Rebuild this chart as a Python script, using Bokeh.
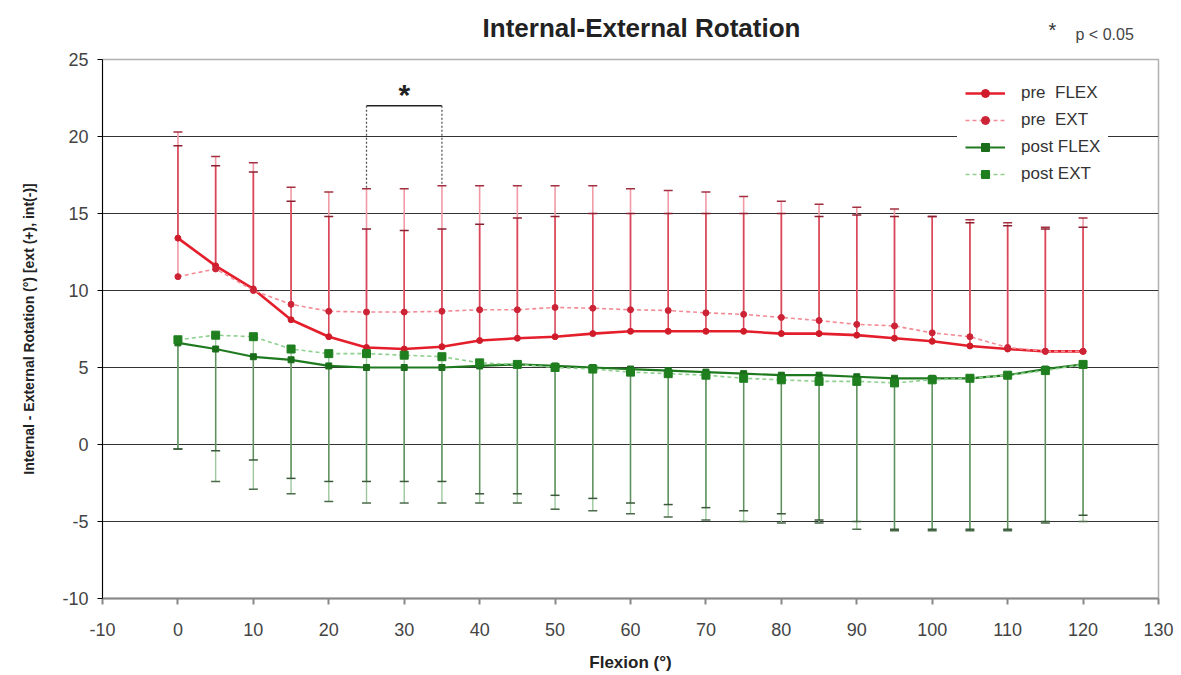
from bokeh.plotting import figure
from bokeh.layouts import column
from bokeh.models import Range1d, Whisker, TeeHead, ColumnDataSource, Label, FixedTicker
from bokeh.core.properties import value
from bokeh.embed import file_html
from bokeh.resources import INLINE

# ---------------- data ----------------
flexion = [0, 5, 10, 15, 20, 25, 30, 35, 40, 45, 50, 55, 60, 65, 70, 75, 80, 85, 90, 95, 100, 105, 110, 115, 120]

pre_flex = [13.4, 11.6, 10.1, 8.1, 7.0, 6.3, 6.2, 6.35, 6.75, 6.9, 7.0, 7.2, 7.35, 7.35, 7.35, 7.35, 7.2, 7.2, 7.1, 6.9, 6.7, 6.4, 6.2, 6.05, 6.05]
pre_ext = [10.9, 11.4, 10.0, 9.1, 8.65, 8.6, 8.6, 8.65, 8.75, 8.75, 8.9, 8.85, 8.75, 8.7, 8.55, 8.45, 8.25, 8.05, 7.8, 7.7, 7.25, 7.0, 6.3, 6.05, 6.05]
post_flex = [6.6, 6.2, 5.7, 5.5, 5.1, 5.0, 5.0, 5.0, 5.1, 5.2, 5.1, 5.0, 4.9, 4.8, 4.7, 4.6, 4.5, 4.5, 4.4, 4.3, 4.3, 4.3, 4.5, 4.9, 5.2]
post_ext = [6.8, 7.1, 7.0, 6.2, 5.9, 5.9, 5.8, 5.7, 5.3, 5.2, 5.0, 4.9, 4.7, 4.6, 4.5, 4.3, 4.2, 4.1, 4.1, 4.0, 4.2, 4.3, 4.5, 4.8, 5.2]

pre_flex_upper = [19.4, 18.1, 17.7, 15.8, 14.8, 14.0, 13.9, 14.0, 14.3, 14.7, 14.8, 15.0, 15.0, 15.0, 15.0, 15.0, 15.0, 14.8, 14.9, 14.8, 14.8, 14.4, 14.2, 14.0, 14.1]
pre_ext_upper = [20.3, 18.7, 18.3, 16.7, 16.4, 16.6, 16.6, 16.8, 16.8, 16.8, 16.8, 16.8, 16.6, 16.5, 16.4, 16.1, 15.8, 15.6, 15.4, 15.3, 14.8, 14.6, 14.4, 14.1, 14.7]
post_flex_lower = [-0.3, -0.4, -1.0, -2.2, -2.4, -2.4, -2.4, -2.4, -3.2, -3.2, -3.3, -3.5, -3.8, -3.9, -4.1, -4.3, -4.5, -4.9, -5.0, -5.5, -5.5, -5.5, -5.5, -5.0, -4.6]
post_ext_lower = [-0.3, -2.4, -2.9, -3.2, -3.7, -3.8, -3.8, -3.8, -3.8, -3.8, -4.2, -4.3, -4.5, -4.7, -4.9, -5.0, -5.1, -5.1, -5.5, -5.6, -5.6, -5.6, -5.6, -5.1, -5.0]

series_labels = ["pre  FLEX", "pre  EXT", "post FLEX", "post EXT"]
x_ticks = [-10, 0, 10, 20, 30, 40, 50, 60, 70, 80, 90, 100, 110, 120, 130]
x_tick_labels = ["-10", "0", "10", "20", "30", "40", "50", "60", "70", "80", "90", "100", "110", "120", "130"]
y_ticks = [-10, -5, 0, 5, 10, 15, 20, 25]
y_tick_labels = ["-10", "-5", "0", "5", "10", "15", "20", "25"]

title_text = "Internal-External Rotation"
note_star = "*"
note_text = "p < 0.05"

# significance bracket between 25 and 35 deg
sig_x = [25, 35]
sig_top = 22.0

FONT = "Liberation Sans"
W = 1181
HEADER_H = 47
MAIN_H = 675 - HEADER_H
FRAME_L, FRAME_R = 102, 1158

# ---------------- header (title + note), pixel coordinates ----------------
hdr = figure(width=W, height=HEADER_H, output_backend="svg", toolbar_location=None,
             x_range=Range1d(FRAME_L, FRAME_R), y_range=Range1d(HEADER_H, 0),
             x_axis_type=None, y_axis_type=None,
             min_border_left=FRAME_L, min_border_right=W - FRAME_R, min_border_top=0, min_border_bottom=0,
             background_fill_color="white", border_fill_color="white")
hdr.outline_line_color = None
hdr.xgrid.visible = False
hdr.ygrid.visible = False
hdr.text(x=[641], y=[27], text=[title_text], text_font=value(FONT), text_font_size="26px",
         text_font_style="bold", text_align="center", text_baseline="middle", text_color="#222222")
hdr.text(x=[1052], y=[29], text=[note_star], text_font=value(FONT), text_font_size="20px",
         text_align="center", text_baseline="middle", text_color="#333333")
hdr.text(x=[1075], y=[34], text=[note_text], text_font=value(FONT), text_font_size="16px",
         text_align="left", text_baseline="middle", text_color="#444444")

# ---------------- main chart ----------------
p = figure(width=W, height=MAIN_H, output_backend="svg", toolbar_location=None,
           x_range=Range1d(-10, 130), y_range=Range1d(-10, 25),
           min_border_left=FRAME_L, min_border_right=W - FRAME_R, min_border_top=12, min_border_bottom=77,
           background_fill_color="white", border_fill_color="white")
p.title = None
p.outline_line_color = "#b0b0b0"
p.outline_line_width = 1.5

p.xaxis.ticker = FixedTicker(ticks=x_ticks)
p.yaxis.ticker = FixedTicker(ticks=y_ticks)
p.xaxis.major_label_overrides = dict(zip(x_ticks, x_tick_labels))
p.yaxis.major_label_overrides = dict(zip(y_ticks, y_tick_labels))
p.xaxis.minor_tick_line_color = None
p.yaxis.minor_tick_line_color = None
p.xgrid.grid_line_color = None
p.ygrid.grid_line_color = "#333333"
p.ygrid.grid_line_width = 1

p.yaxis.axis_line_color = "black"
p.yaxis.major_tick_line_color = "black"
p.yaxis.major_tick_out = 5
p.yaxis.major_tick_in = 0
p.xaxis.axis_line_color = "#888888"
p.xaxis.axis_line_width = 2
p.xaxis.major_tick_line_color = "#888888"
p.xaxis.major_tick_line_width = 2
p.xaxis.major_tick_out = 6
p.xaxis.major_tick_in = 0

for ax in (p.xaxis, p.yaxis):
    ax.major_label_text_font = FONT
    ax.major_label_text_font_size = "18px"
    ax.major_label_text_color = "#444444"
    ax.axis_label_text_font = FONT
    ax.axis_label_text_font_style = "bold"
    ax.axis_label_text_color = "#222222"

p.yaxis.major_label_standoff = 9
p.xaxis.major_label_standoff = 18
p.yaxis.axis_label = "Internal - External Rotation (°) [ext (+), int(-)]"
p.yaxis.axis_label_text_font_size = "14px"
p.yaxis.axis_label_standoff = 22
p.xaxis.axis_label = "Flexion (°)"
p.xaxis.axis_label_text_font_size = "17px"
p.xaxis.axis_label_standoff = 14

src = ColumnDataSource(dict(x=flexion, pre_flex=pre_flex, pre_ext=pre_ext,
                            post_flex=post_flex, post_ext=post_ext,
                            pfu=pre_flex_upper, peu=pre_ext_upper,
                            qfl=post_flex_lower, qel=post_ext_lower))

def add_whisker(lower, upper, stem, cap, upper_cap=True):
    head = TeeHead(size=9, line_color=cap, line_width=1.5)
    if upper_cap:
        w = Whisker(base="x", lower=lower, upper=upper, source=src, dimension="height",
                    line_color=stem, line_width=1.6, upper_head=head, lower_head=None,
                    level="underlay")
    else:
        w = Whisker(base="x", lower=lower, upper=upper, source=src, dimension="height",
                    line_color=stem, line_width=1.4, lower_head=head, upper_head=None,
                    level="underlay")
    p.add_layout(w)

add_whisker("pre_ext", "peu", "#f19aa6", "#a33040")
add_whisker("pre_flex", "pfu", "#d9485a", "#8a2030")
add_whisker("qel", "post_ext", "#9cc89c", "#4a6a4a", upper_cap=False)
add_whisker("qfl", "post_flex", "#5f8f5f", "#3a5a3a", upper_cap=False)

p.line("x", "pre_flex", source=src, line_color="#e41e2b", line_width=2.6, legend_label=series_labels[0])
p.scatter("x", "pre_flex", source=src, marker="circle", size=6, fill_color="#d01c2a",
          line_color="#d01c2a", legend_label=series_labels[0])

p.line("x", "pre_ext", source=src, line_color="#f28b95", line_width=1.6, line_dash="4 3",
       legend_label=series_labels[1])
p.scatter("x", "pre_ext", source=src, marker="circle", size=6, fill_color="#cc2336",
          line_color="#cc2336", legend_label=series_labels[1])

p.line("x", "post_flex", source=src, line_color="#1f7a1f", line_width=2.2, legend_label=series_labels[2])
p.scatter("x", "post_flex", source=src, marker="square", size=6, fill_color="#1a6e1a",
          line_color="#1a6e1a", legend_label=series_labels[2])

p.line("x", "post_ext", source=src, line_color="#8fd08f", line_width=1.6, line_dash="4 3",
       legend_label=series_labels[3])
p.scatter("x", "post_ext", source=src, marker="square", size=8, fill_color="#1f7f1f",
          line_color="#1f7f1f", legend_label=series_labels[3])

# significance bracket
i0, i1 = flexion.index(sig_x[0]), flexion.index(sig_x[1])
p.line(sig_x, [sig_top, sig_top], line_color="#222222", line_width=1.5)
p.segment(x0=sig_x, y0=[sig_top, sig_top], x1=sig_x, y1=[pre_ext_upper[i0], pre_ext_upper[i1]],
          line_color="#555555", line_width=1.3, line_dash="2 2")
p.add_layout(Label(x=(sig_x[0] + sig_x[1]) / 2, y=sig_top + 0.75, text="*", text_font=FONT,
                   text_font_size="30px", text_font_style="bold", text_align="center",
                   text_baseline="middle", text_color="#222222"))

lg = p.legend[0]
lg.location = (855, 406)
lg.label_text_font = FONT
lg.label_text_font_size = "17px"
lg.label_text_color = "#333333"
lg.glyph_width = 40
lg.glyph_height = 20
lg.label_height = 20
lg.label_standoff = 16
lg.spacing = 7
lg.padding = 8
lg.margin = 0
lg.border_line_alpha = 0
lg.background_fill_color = "white"
lg.background_fill_alpha = 1.0

layout = column(hdr, p, spacing=0)
open("out.html", "w").write(file_html(layout, INLINE))
